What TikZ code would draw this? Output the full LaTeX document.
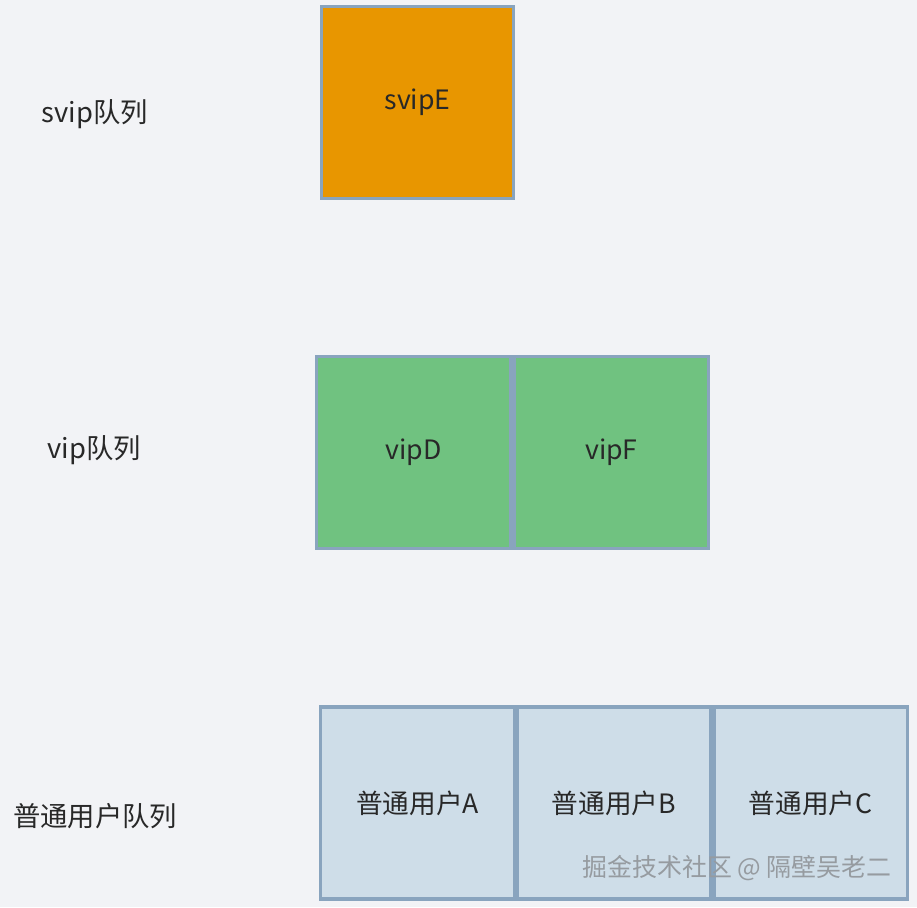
\documentclass[tikz,border=0pt]{standalone}
\usepackage{fontspec}
\setmainfont{Noto Sans CJK SC}
\usetikzlibrary{positioning}
\definecolor{bgGrey}{RGB}{242,243,246}
\definecolor{edgeBlue}{RGB}{137,164,190}
\definecolor{svipOrange}{RGB}{232,150,0}
\definecolor{vipGreen}{RGB}{112,194,128}
\definecolor{paleBlue}{RGB}{206,221,232}
\definecolor{inkGrey}{RGB}{40,40,40}
\definecolor{markGrey}{RGB}{150,155,160}
\tikzset{
  cell/.style={draw=edgeBlue, line width=2.4pt, minimum width=144.5pt, minimum height=144pt,
               inner sep=0pt, text=inkGrey, font=\fontsize{20}{24}\selectfont},
  svipcell/.style={cell, fill=svipOrange},
  vipcell/.style={cell, fill=vipGreen, minimum width=146pt},
  usercell/.style={cell, fill=paleBlue, minimum width=145pt},
  queue/.style={text=inkGrey, font=\fontsize{20.5}{24}\selectfont},
  watermark/.style={text=markGrey, font=\fontsize{18.7}{22}\selectfont}
}
\begin{document}
\begin{tikzpicture}[x=0.75pt, y=-0.75pt, node distance=0pt]
  \fill[bgGrey] (0,0) rectangle (917,907);
  \useasboundingbox (0,0) rectangle (917,907);
  % queue names
  \node[queue] (svipq) at (95,114) {svip队列};
  \node[queue] (vipq) at (94,450) {vip队列};
  \node[queue] (userq) at (95,816) {普通用户队列};
  % svip queue
  \node[svipcell] (svipE) at (417.5,102.5) {svipE};
  % vip queue
  \node[vipcell] (vipD) at (413.5,452.5) {vipD};
  \node[vipcell, right=of vipD] (vipF) {vipF};
  % normal queue
  \node[usercell] (userA) at (417.5,803) {普通用户A};
  \node[usercell, right=of userA] (userB) {普通用户B};
  \node[usercell, right=of userB] (userC) {普通用户C};
  \node[watermark] (wmark) at (737,868) {掘金技术社区 @ 隔壁吴老二};
\end{tikzpicture}
\end{document}
